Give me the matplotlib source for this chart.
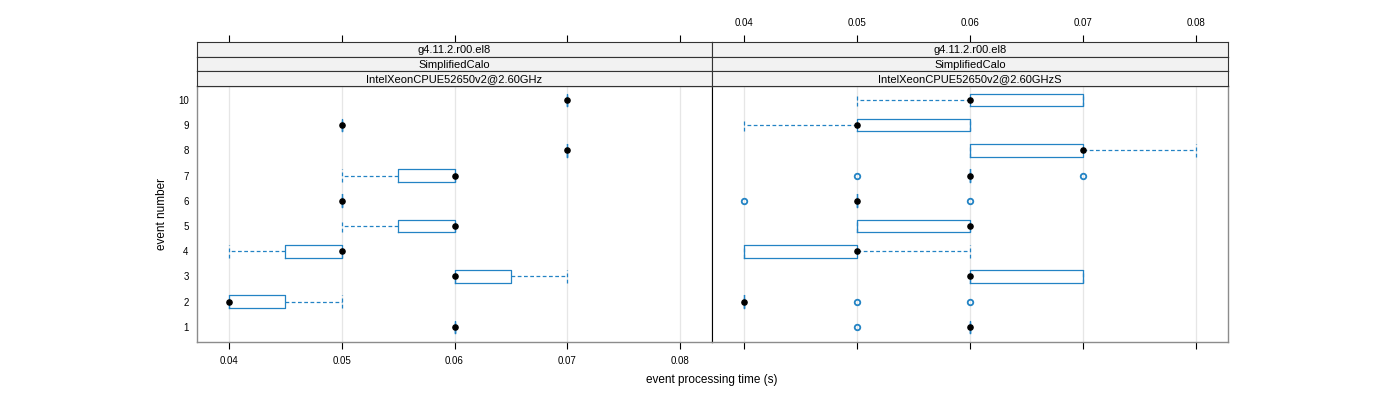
import numpy as np
import matplotlib
matplotlib.use("Agg")
import matplotlib.pyplot as plt

plt.rcParams['font.family'] = ['Liberation Sans', 'DejaVu Sans']

events = [1, 2, 3, 4, 5, 6, 7, 8, 9, 10]
ticks = [0.04, 0.05, 0.06, 0.07, 0.08]
tick_labels = ["0.04", "0.05", "0.06", "0.07", "0.08"]
strip_top = ["g4.11.2.r00.el8", "g4.11.2.r00.el8"]
strip_mid = ["SimplifiedCalo", "SimplifiedCalo"]
strip_bot = ["IntelXeonCPUE52650v2@2.60GHz", "IntelXeonCPUE52650v2@2.60GHzS"]

# left panel: whisker low, q1, median, q3, whisker high, outliers
left_lo = [0.06, 0.04, 0.06, 0.04, 0.05, 0.05, 0.05, 0.07, 0.05, 0.07]
left_q1 = [0.06, 0.04, 0.06, 0.045, 0.055, 0.05, 0.055, 0.07, 0.05, 0.07]
left_med = [0.06, 0.04, 0.06, 0.05, 0.06, 0.05, 0.06, 0.07, 0.05, 0.07]
left_q3 = [0.06, 0.045, 0.065, 0.05, 0.06, 0.05, 0.06, 0.07, 0.05, 0.07]
left_hi = [0.06, 0.05, 0.07, 0.05, 0.06, 0.05, 0.06, 0.07, 0.05, 0.07]
left_out = [[], [], [], [], [], [], [], [], [], []]

# right panel
right_lo = [0.06, 0.04, 0.06, 0.04, 0.05, 0.05, 0.06, 0.06, 0.04, 0.05]
right_q1 = [0.06, 0.04, 0.06, 0.04, 0.05, 0.05, 0.06, 0.06, 0.05, 0.06]
right_med = [0.06, 0.04, 0.06, 0.05, 0.06, 0.05, 0.06, 0.07, 0.05, 0.06]
right_q3 = [0.06, 0.04, 0.07, 0.05, 0.06, 0.05, 0.06, 0.07, 0.06, 0.07]
right_hi = [0.06, 0.04, 0.07, 0.06, 0.06, 0.05, 0.06, 0.08, 0.06, 0.07]
right_out = [[0.05], [0.05, 0.06], [], [], [], [0.04, 0.06], [0.05, 0.07], [], [], []]

BLUE = "#2383c4"
GRAY = "#8c8c8c"

fig = plt.figure(figsize=(14, 4), dpi=100)
W, H = 1400.0, 400.0


def fx(px):
    return px / W


def fy(py):
    return 1 - py / H


panels = [(197, 712, left_lo, left_q1, left_med, left_q3, left_hi, left_out),
          (712, 1228, right_lo, right_q1, right_med, right_q3, right_hi, right_out)]

xlim = (0.03716, 0.08284)
ylim = (0.4, 10.55)

for i, (x0, x1, lo, q1, med, q3, hi, out) in enumerate(panels):
    ax = fig.add_axes([fx(x0), fy(342), fx(x1 - x0), (342 - 86) / H])
    stats = []
    for k in range(len(events)):
        stats.append(dict(whislo=lo[k], q1=q1[k], med=med[k], q3=q3[k],
                          whishi=hi[k], fliers=out[k]))
    ax.bxp(stats, positions=events, widths=0.5, orientation='horizontal',
           capwidths=0.5, showfliers=True, manage_ticks=False,
           boxprops=dict(color=BLUE, linewidth=0.9),
           whiskerprops=dict(color=BLUE, linewidth=0.9, linestyle=(0, (3, 2))),
           capprops=dict(color=BLUE, linewidth=0.9, linestyle=(0, (3, 2))),
           medianprops=dict(linestyle='none'),
           flierprops=dict(marker='o', markersize=4, markerfacecolor='none',
                           markeredgecolor=BLUE, markeredgewidth=1.3))
    ax.scatter(med, events, s=14, color='black', zorder=5)
    ax.set_xlim(*xlim)
    ax.set_ylim(*ylim)
    for t in ticks:
        ax.axvline(t, color='#e6e6e6', linewidth=0.9, zorder=0)
    ax.set_xticks(ticks)
    ax.tick_params(axis='x', direction='out', length=5, width=0.8, color='black',
                   labelsize=7, pad=5)
    if i == 0:
        ax.set_xticklabels(tick_labels)
        ax.set_yticks(events)
        ax.set_yticklabels([str(e) for e in events])
        ax.tick_params(axis='y', length=0, labelsize=7, pad=6)
        ax.set_ylabel("event number", fontsize=8.5, labelpad=7)
    else:
        ax.set_xticklabels([])
        ax.set_yticks([])
    for side in ['top', 'bottom', 'left', 'right']:
        ax.spines[side].set_color(GRAY)
        ax.spines[side].set_linewidth(1.0)
    if i == 0:
        ax.spines['right'].set_color('black')
        ax.spines['right'].set_linewidth(0.8)
    else:
        ax.spines['left'].set_color('black')
        ax.spines['left'].set_linewidth(0.8)

    # strips
    strip_texts = [strip_top[i], strip_mid[i], strip_bot[i]]
    sh = (86 - 42) / 3.0
    for j, txt in enumerate(strip_texts):
        top_px = 42 + j * sh
        sax = fig.add_axes([fx(x0), fy(top_px + sh), fx(x1 - x0), sh / H])
        sax.set_facecolor('#f2f2f2')
        sax.set_xlim(*xlim)
        sax.set_yticks([])
        sax.text(0.5, 0.45, txt, transform=sax.transAxes, ha='center',
                 va='center', fontsize=8)
        for side in ['top', 'bottom', 'left', 'right']:
            sax.spines[side].set_color('#333333')
            sax.spines[side].set_linewidth(0.8)
        if j == 0:
            sax.set_xticks(ticks)
            sax.xaxis.set_ticks_position('top')
            sax.tick_params(axis='x', direction='out', length=5, width=0.8,
                            labelsize=7, pad=5)
            if i == 1:
                sax.set_xticklabels(tick_labels)
            else:
                sax.set_xticklabels([])
        else:
            sax.set_xticks([])

fig.text(fx(712), fy(380), "event processing time (s)", ha='center',
         va='center', fontsize=8.5)

fig.savefig("out.png", dpi=100)
